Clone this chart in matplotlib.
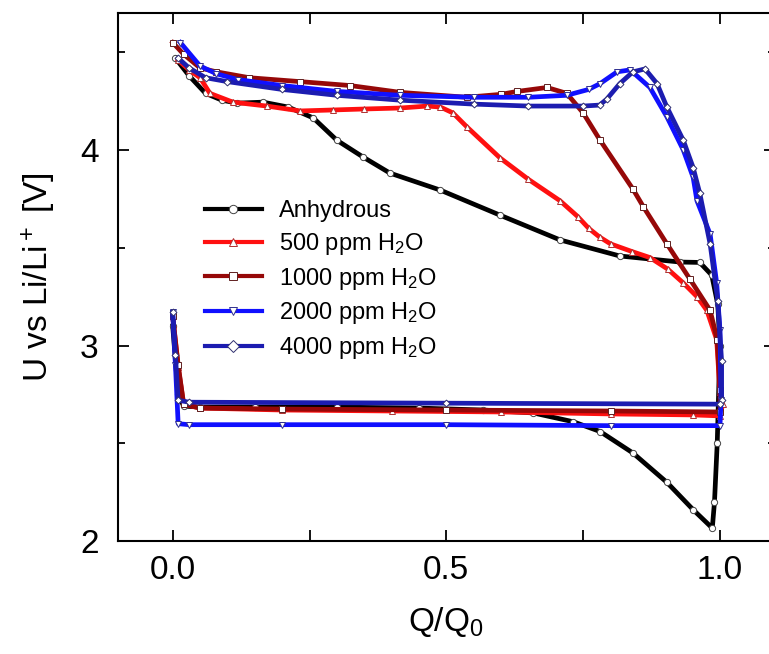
import matplotlib
matplotlib.use("Agg")
import matplotlib.pyplot as plt

plt.rcParams['font.family'] = ['Liberation Sans', 'DejaVu Sans']
plt.rcParams['mathtext.fontset'] = 'custom'
plt.rcParams['mathtext.rm'] = 'Liberation Sans'
plt.rcParams['mathtext.it'] = 'Liberation Sans:italic'

# each curve: upper branch (Q 0 -> 1), drop at Q=1, lower branch back to Q=0, spike at Q=0
q_anh = [0.005, 0.03, 0.06, 0.09, 0.118, 0.165, 0.211, 0.257, 0.30, 0.348, 0.397, 0.489, 0.598,
         0.708, 0.817, 0.927, 0.963, 0.985, 0.996, 1.0,
         0.995, 0.99, 0.986, 0.951, 0.903, 0.841, 0.781, 0.732, 0.659, 0.567, 0.45, 0.3, 0.15,
         0.05, 0.02, 0.01, 0.0]
u_anh = [4.47, 4.38, 4.29, 4.255, 4.24, 4.245, 4.22, 4.164, 4.05, 3.964, 3.882, 3.795, 3.667,
         3.54, 3.458, 3.427, 3.425, 3.36, 3.21, 3.0,
         2.5, 2.2, 2.066, 2.16, 2.30, 2.45, 2.56, 2.61, 2.655, 2.67, 2.68, 2.685, 2.685,
         2.685, 2.69, 2.75, 3.10]

q_500 = [0.01, 0.03, 0.05, 0.068, 0.11, 0.172, 0.233, 0.293, 0.35, 0.416, 0.465, 0.489, 0.512,
         0.537, 0.598, 0.65, 0.708, 0.74, 0.76, 0.78, 0.80, 0.84, 0.872, 0.905, 0.933, 0.958,
         0.976, 0.994, 1.0, 1.005,
         1.0, 0.95, 0.8, 0.6, 0.4, 0.2, 0.05, 0.02, 0.01, 0.0]
u_500 = [4.46, 4.41, 4.37, 4.29, 4.245, 4.225, 4.20, 4.205, 4.21, 4.215, 4.225, 4.22, 4.19,
         4.12, 3.96, 3.85, 3.74, 3.66, 3.60, 3.555, 3.52, 3.48, 3.45, 3.39, 3.32, 3.25,
         3.18, 3.03, 2.76, 2.70,
         2.64, 2.645, 2.65, 2.66, 2.665, 2.67, 2.68, 2.70, 2.89, 3.15]

q_1000 = [0.0, 0.02, 0.05, 0.08, 0.14, 0.233, 0.324, 0.416, 0.537, 0.6, 0.63, 0.684, 0.72,
          0.75, 0.781, 0.841, 0.86, 0.903, 0.945, 0.982, 0.995, 1.0,
          1.0, 0.8, 0.5, 0.2, 0.05, 0.02, 0.01, 0.0]
u_1000 = [4.55, 4.49, 4.42, 4.40, 4.37, 4.35, 4.33, 4.295, 4.27, 4.285, 4.30, 4.32, 4.29,
          4.19, 4.05, 3.80, 3.71, 3.52, 3.34, 3.18, 3.03, 2.77,
          2.66, 2.665, 2.67, 2.675, 2.68, 2.70, 2.90, 3.15]

q_2000 = [0.014, 0.05, 0.08, 0.12, 0.2, 0.3, 0.416, 0.55, 0.65, 0.72, 0.76, 0.781, 0.812,
          0.836, 0.872, 0.903, 0.933, 0.951, 0.958, 0.982, 0.994, 1.0, 1.002,
          1.0, 0.8, 0.5, 0.2, 0.03, 0.01, 0.005, 0.0]
u_2000 = [4.55, 4.43, 4.39, 4.36, 4.33, 4.30, 4.28, 4.27, 4.27, 4.28, 4.31, 4.34, 4.40,
          4.41, 4.32, 4.17, 4.0, 3.86, 3.74, 3.57, 3.32, 3.08, 2.72,
          2.59, 2.59, 2.595, 2.595, 2.595, 2.60, 2.90, 3.17]

q_4000 = [0.01, 0.03, 0.06, 0.1, 0.2, 0.3, 0.416, 0.55, 0.65, 0.75, 0.78, 0.793, 0.817,
          0.841, 0.863, 0.885, 0.903, 0.933, 0.951, 0.963, 0.982, 0.996, 1.003, 1.003,
          1.0, 0.5, 0.03, 0.01, 0.005, 0.0]
u_4000 = [4.47, 4.42, 4.37, 4.35, 4.31, 4.28, 4.255, 4.235, 4.225, 4.225, 4.23, 4.26, 4.34,
          4.40, 4.415, 4.34, 4.22, 4.05, 3.91, 3.78, 3.52, 3.23, 2.92, 2.72,
          2.70, 2.705, 2.71, 2.72, 2.95, 3.17]

labels = ['Anhydrous', '500 ppm H$_2$O', '1000 ppm H$_2$O', '2000 ppm H$_2$O', '4000 ppm H$_2$O']
colors = ['#000000', '#ff1010', '#960808', '#1010ff', '#1c1cb0']
edge_colors = ['#444444', '#b03030', '#602020', '#303090', '#303070']
markers = ['o', '^', 's', 'v', 'D']

fig = plt.figure(figsize=(7.69, 6.54), dpi=100)
ax = fig.add_axes([0.1534, 0.1728, 0.854, 0.807])

curves = [(q_anh, u_anh), (q_500, u_500), (q_1000, u_1000), (q_2000, u_2000), (q_4000, u_4000)]
for (q, u), lab, c, ec, m in zip(curves, labels, colors, edge_colors, markers):
    ax.plot(q, u, color=c, lw=3.4, marker=m, ms=4.5 if m != 'D' else 3.5,
            mfc='white', mec=ec, mew=0.7, label=lab, solid_joinstyle='round')

ax.set_xlim(-0.1, 1.1)
ax.set_ylim(2.0, 4.7)
ax.set_xticks([0.0, 0.5, 1.0])
ax.set_xticks([0.25, 0.75], minor=True)
ax.set_xticklabels(['0.0', '0.5', '1.0'])
ax.set_yticks([2, 3, 4])
ax.set_yticks([2.5, 3.5, 4.5], minor=True)

ax.tick_params(which='both', direction='in', top=True, right=True, width=1.3)
ax.tick_params(axis='x', which='both', length=8)
ax.tick_params(axis='y', which='major', length=8)
ax.tick_params(axis='y', which='minor', length=5)
ax.tick_params(axis='x', which='major', labelsize=24, pad=10)
ax.tick_params(axis='y', which='major', labelsize=24, pad=14)
for s in ax.spines.values():
    s.set_linewidth(1.5)

ax.set_xlabel('Q/Q$_0$', fontsize=24, labelpad=14)
ax.set_ylabel('U vs Li/Li$^+$ [V]', fontsize=24, labelpad=16)

leg = ax.legend(loc='upper left', bbox_to_anchor=(0.1325, 0.646), frameon=False,
                fontsize=17, handlelength=2.4, handletextpad=0.75, labelspacing=0.37,
                borderpad=0, borderaxespad=0)
for h in leg.legend_handles:
    h.set_linewidth(3.0)
    h.set_markersize(6)

fig.savefig('out.png', dpi=100)
